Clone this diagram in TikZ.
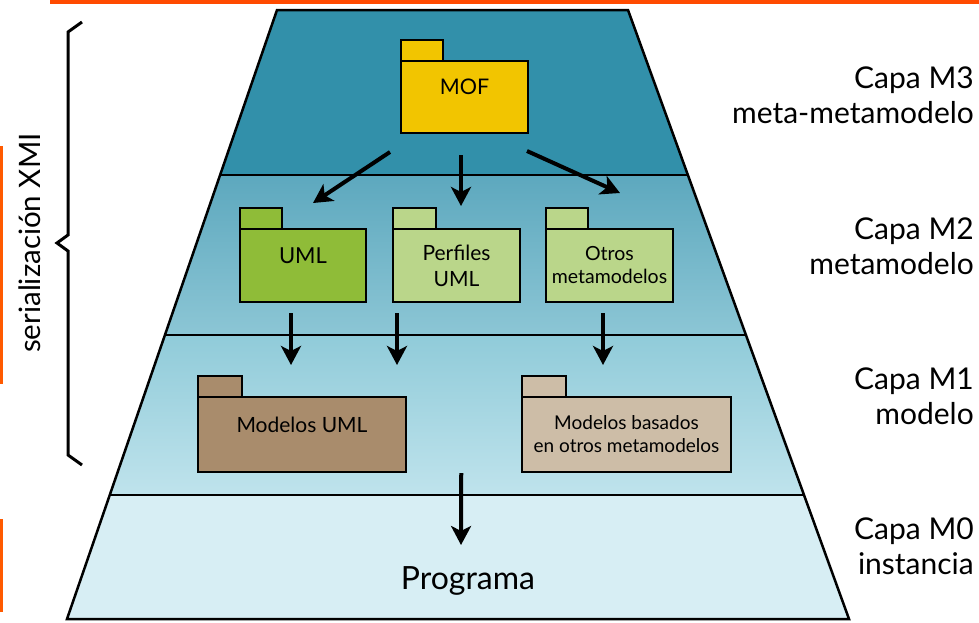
\documentclass[tikz,border=0pt]{standalone}
\usepackage{fontspec}
\setmainfont{Lato}
\usetikzlibrary{arrows.meta,positioning,calc}

\definecolor{mthree}{HTML}{3290AA}
\definecolor{mtwoa}{HTML}{5DA8BE}
\definecolor{mtwob}{HTML}{8CC6D5}
\definecolor{monea}{HTML}{90CBD9}
\definecolor{moneb}{HTML}{BFE3EC}
\definecolor{mzero}{HTML}{D7EEF4}
\definecolor{mofc}{HTML}{F2C500}
\definecolor{umlc}{HTML}{8FBC38}
\definecolor{perfc}{HTML}{BAD68A}
\definecolor{mumlc}{HTML}{A98C6C}
\definecolor{motrosc}{HTML}{CDBDA7}
\definecolor{stripc}{HTML}{FF4A00}

\begin{document}
\begin{tikzpicture}[x=1pt,y=-1pt,
    pkg/.style={draw,line width=2.2pt,inner sep=0pt,outer sep=0pt,align=center,
                minimum height=73pt},
    raised/.style={text height=16pt,text depth=21pt},
    arr/.style={line width=4pt,-{Stealth[length=19pt,width=20pt,inset=5pt]}},
    capa/.style={anchor=east,align=right,inner sep=0pt,font=\fontsize{30}{35}\selectfont}]

  \useasboundingbox (0,0) rectangle (979,622);

  % remains of the page behind
  \fill[stripc] (50,0) rectangle (979,3.5);
  \fill[stripc!70!orange] (0,146) rectangle (3,384);
  \fill[stripc!70!orange] (0,519) rectangle (3,612);

  % the pyramid and its layers
  \coordinate (tl) at (277,10);
  \coordinate (tr) at (628,10);
  \coordinate (bl) at (67,619);
  \coordinate (br) at (849,619);
  \foreach \i/\t in {1/0.2709,2/0.5337,3/0.7964}{
    \coordinate (l\i) at ($(tl)!\t!(bl)$);
    \coordinate (r\i) at ($(tr)!\t!(br)$);
  }
  \fill[mthree] (tl) -- (tr) -- (r1) -- (l1) -- cycle;
  \shade[top color=mtwoa,bottom color=mtwob] (l1) -- (r1) -- (r2) -- (l2) -- cycle;
  \shade[top color=monea,bottom color=moneb] (l2) -- (r2) -- (r3) -- (l3) -- cycle;
  \fill[mzero] (l3) -- (r3) -- (br) -- (bl) -- cycle;
  \draw[line width=2.5pt] (tl) -- (tr) -- (br) -- (bl) -- cycle;
  \foreach \i in {1,2,3}
    \draw[line width=2.5pt] (l\i) -- (r\i);

  % packages
  \node[pkg,fill=mofc,raised,minimum width=127pt,minimum height=72pt,
        font=\fontsize{21.5}{26}\selectfont] (mof) at (464.5,97) {MOF};
  \node[pkg,fill=umlc,raised,minimum width=126pt,
        font=\fontsize{22}{26}\selectfont] (uml) at (303,265.5) {UML};
  \node[pkg,fill=perfc,minimum width=127pt,font=\fontsize{21}{26}\selectfont,
        right=27pt of uml] (perf) {Perfiles\\UML};
  \node[pkg,fill=perfc,minimum width=127pt,font=\fontsize{19.5}{23}\selectfont,
        right=26pt of perf] (otros) {Otros\\metamodelos};
  \node[pkg,fill=mumlc,raised,minimum width=208pt,minimum height=75pt,
        font=\fontsize{21}{25}\selectfont] (muml) at (302,434.5) {Modelos UML};
  \node[pkg,fill=motrosc,minimum width=209pt,minimum height=75pt,
        font=\fontsize{19}{23}\selectfont,right=116pt of muml] (motros)
        {Modelos basados\\en otros metamodelos};
  \foreach \n/\c/\w in {mof/mofc/42,uml/umlc/42,perf/perfc/43,otros/perfc/42,
                        muml/mumlc/44,motros/motrosc/44}
    \draw[line width=2.2pt,fill=\c] (\n.north west) rectangle ++(\w,-21);

  \node[font=\fontsize{32}{38}\selectfont,anchor=base] (prog) at (468,589) {Programa};

  % arrows between layers
  \draw[arr] ([shift={(-11,19)}]mof.south west) -- ([shift={(10,-26)}]uml.north);
  \draw[arr] ([shift={(-3.5,22)}]mof.south) -- ([shift={(4.5,-23)}]perf.north);
  \draw[arr] ([shift={(-1,18)}]mof.south east) -- ([shift={(10.5,-36)}]otros.north);
  \draw[arr] ([shift={(-12,11)}]uml.south) -- ([shift={(-11,-32)}]muml.north);
  \draw[arr] ([shift={(-59.5,11)}]perf.south) -- ([shift={(95,-32)}]muml.north);
  \draw[arr] ([shift={(-6.5,11)}]otros.south) -- ([shift={(-23.5,-32)}]motros.north);
  \coordinate (m1out) at ($(muml.south)!.5!(motros.south)$);
  \draw[arr] ([shift={(-3,1)}]m1out) -- ([shift={(-7,-44)}]prog.base);

  % layer names
  \node[capa] (c3) at (974,95.5) {Capa M3\\meta-metamodelo};
  \node[capa] (c2) at (974,246.5) {Capa M2\\metamodelo};
  \node[capa] (c1) at (974,396) {Capa M1\\modelo};
  \node[capa] (c0) at (974,546.5) {Capa M0\\instancia};

  % brace
  \draw[line width=3pt] (82,22) -- (68,32) -- (68,235) -- (57,243) -- (68,251)
        -- (68,455) -- (82,465);
  \node[rotate=90,anchor=base,font=\fontsize{29.5}{35}\selectfont] (xmi) at (40,243)
        {serialización XMI};
\end{tikzpicture}
\end{document}
